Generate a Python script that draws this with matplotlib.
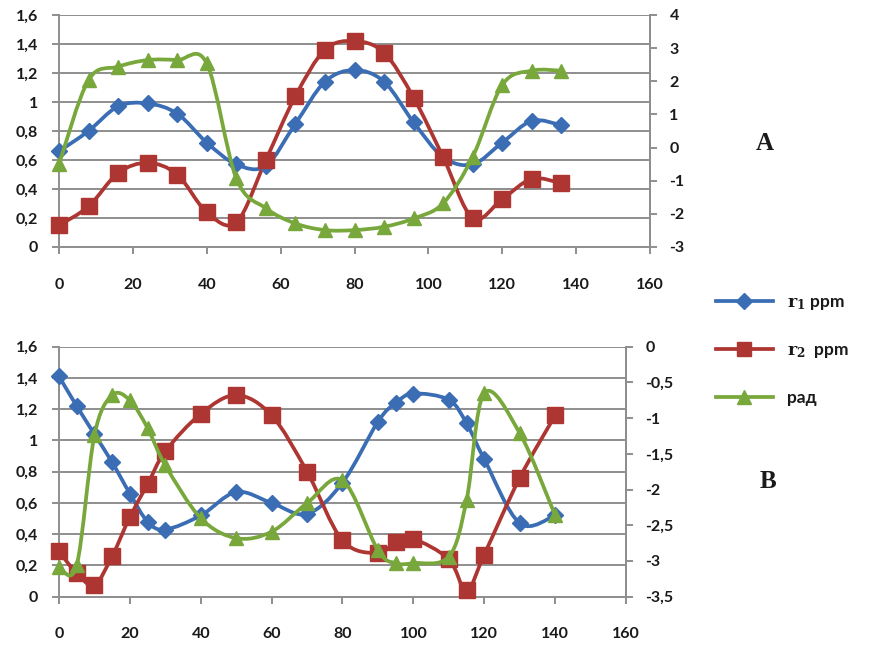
import numpy as np
import matplotlib
matplotlib.use('Agg')
import matplotlib.pyplot as plt
from matplotlib.path import Path
from matplotlib.patches import PathPatch
from matplotlib.lines import Line2D
from matplotlib.ticker import FuncFormatter, MultipleLocator

# ---------------- data ----------------
x_top = [0, 8, 16, 24, 32, 40, 48, 56, 64, 72, 80, 88, 96, 104, 112, 120, 128, 136]
r1_top = [0.66, 0.80, 0.97, 0.99, 0.92, 0.72, 0.57, 0.56, 0.85, 1.14, 1.22, 1.14, 0.86, 0.62, 0.57, 0.72, 0.87, 0.84]
r2_top = [0.15, 0.28, 0.51, 0.58, 0.50, 0.24, 0.17, 0.60, 1.04, 1.36, 1.42, 1.34, 1.03, 0.62, 0.20, 0.33, 0.47, 0.44]
rad_top = [-0.50, 2.04, 2.44, 2.64, 2.64, 2.54, -0.93, -1.83, -2.29, -2.49, -2.49, -2.39, -2.14, -1.68, -0.28, 1.89, 2.32, 2.32]

x_bot = [0, 5, 10, 15, 20, 25, 30, 40, 50, 60, 70, 80, 90, 95, 100, 110, 115, 120, 130, 140]
r1_bot = [1.41, 1.22, 1.04, 0.86, 0.66, 0.48, 0.43, 0.52, 0.67, 0.60, 0.53, 0.73, 1.12, 1.24, 1.30, 1.26, 1.11, 0.88, 0.47, 0.52]
r2_bot = [0.29, 0.15, 0.075, 0.26, 0.51, 0.72, 0.93, 1.17, 1.29, 1.16, 0.80, 0.36, 0.28, 0.35, 0.37, 0.24, 0.04, 0.27, 0.76, 1.16]
rad_bot = [-3.09, -3.06, -1.24, -0.68, -0.75, -1.14, -1.66, -2.40, -2.68, -2.59, -2.19, -1.87, -2.85, -3.03, -3.03, -2.94, -2.15, -0.65, -1.21, -2.36]

legend_labels = [r'$\mathbf{r_1}$ ppm', r'$\mathbf{r_2}$  ppm', 'рад']
panel_labels = ['A', 'B']

# ---------------- style ----------------
C_BLUE = '#3A6DB4'
C_RED = '#AE3632'
C_GREEN = '#78A83C'
GRID = '#8E8E8E'
TXT = '#1A1A1A'
LW = 2.7
FS = 11.5

plt.rcParams['font.family'] = ['Lato', 'DejaVu Sans']
plt.rcParams['mathtext.fontset'] = 'dejavuserif'

fig = plt.figure(figsize=(8.79, 6.48), dpi=100)
W, H = 879.0, 648.0


def smooth_path(x, y):
    pts = np.column_stack([x, y]).astype(float)
    n = len(pts)
    verts = [pts[0]]
    codes = [Path.MOVETO]
    for i in range(n - 1):
        p0 = pts[i - 1] if i > 0 else pts[i]
        p1 = pts[i]
        p2 = pts[i + 1]
        p3 = pts[i + 2] if i + 2 < n else pts[i + 1]
        c1 = p1 + (p2 - p0) / 6.0
        c2 = p2 - (p3 - p1) / 6.0
        verts += [c1, c2, p2]
        codes += [Path.CURVE4] * 3
    return Path(verts, codes)


def series(ax, x, y, color, marker, ms):
    ax.add_patch(PathPatch(smooth_path(x, y), facecolor='none', edgecolor=color,
                           lw=LW, capstyle='round', joinstyle='round', zorder=3))
    ax.plot(x, y, linestyle='none', marker=marker, color=color, ms=ms,
            markeredgecolor=color, zorder=4, clip_on=False)


def comma(v, pos):
    s = '%g' % round(v, 2)
    return s.replace('.', ',')


def make_panel(rect, x, r1, r2, rad, rlim, rstep):
    ax = fig.add_axes(rect)
    ax.set_xlim(0, 160)
    ax.set_ylim(0, 1.6)
    ax.yaxis.set_major_locator(MultipleLocator(0.2))
    ax.xaxis.set_major_locator(MultipleLocator(20))
    ax.yaxis.set_major_formatter(FuncFormatter(comma))
    ax.grid(axis='y', color=GRID, lw=1.4)
    ax.set_axisbelow(True)
    ax.spines['top'].set_visible(False)
    for s in ['left', 'bottom', 'right']:
        ax.spines[s].set_color(GRID)
        ax.spines[s].set_linewidth(1.4)
    ax.tick_params(axis='y', length=5, width=1.4, color=GRID, pad=10,
                   labelsize=FS, labelcolor=TXT)
    ax.tick_params(axis='x', length=5, width=1.4, color=GRID, pad=17,
                   labelsize=FS, labelcolor=TXT)
    for lab in ax.get_xticklabels() + ax.get_yticklabels():
        lab.set_fontweight('bold')
    series(ax, x, r1, C_BLUE, 'D', 8.5)
    series(ax, x, r2, C_RED, 's', 11)

    ax2 = ax.twinx()
    ax2.set_ylim(*rlim)
    ax2.yaxis.set_major_locator(MultipleLocator(rstep))
    ax2.yaxis.set_major_formatter(FuncFormatter(comma))
    for s in ['top', 'left', 'bottom']:
        ax2.spines[s].set_visible(False)
    ax2.spines['right'].set_color(GRID)
    ax2.spines['right'].set_linewidth(1.4)
    ax2.tick_params(axis='y', length=5, width=1.4, color=GRID, pad=9,
                    labelsize=FS, labelcolor=TXT)
    for lab in ax2.get_yticklabels():
        lab.set_fontweight('bold')
    series(ax2, x, rad, C_GREEN, '^', 10.5)
    return ax, ax2


make_panel([59 / W, 1 - 247 / H, (650 - 59) / W, 232 / H],
           x_top, r1_top, r2_top, rad_top, (-3, 4), 1)
make_panel([59 / W, 1 - 596.7 / H, (626 - 59) / W, 250 / H],
           x_bot, r1_bot, r2_bot, rad_bot, (-3.5, 0), 0.5)

handles = [Line2D([], [], color=C_BLUE, lw=LW, marker='D', ms=8),
           Line2D([], [], color=C_RED, lw=LW, marker='s', ms=10.5),
           Line2D([], [], color=C_GREEN, lw=LW, marker='^', ms=10)]
leg = fig.legend(handles, legend_labels, loc='upper left',
                 bbox_to_anchor=(700 / W, 1 - 278 / H), frameon=False,
                 handlelength=3.3, labelspacing=1.75, fontsize=12.5,
                 handletextpad=0.8)
for t in leg.get_texts():
    t.set_fontweight('bold')
    t.set_color(TXT)

fig.text(765 / W, 1 - 143 / H, panel_labels[0], family='Liberation Serif',
         fontweight='bold', fontsize=18, ha='center', va='center', color=TXT)
fig.text(768 / W, 1 - 481 / H, panel_labels[1], family='Liberation Serif',
         fontweight='bold', fontsize=18, ha='center', va='center', color=TXT)

fig.savefig('out.png', dpi=100)
